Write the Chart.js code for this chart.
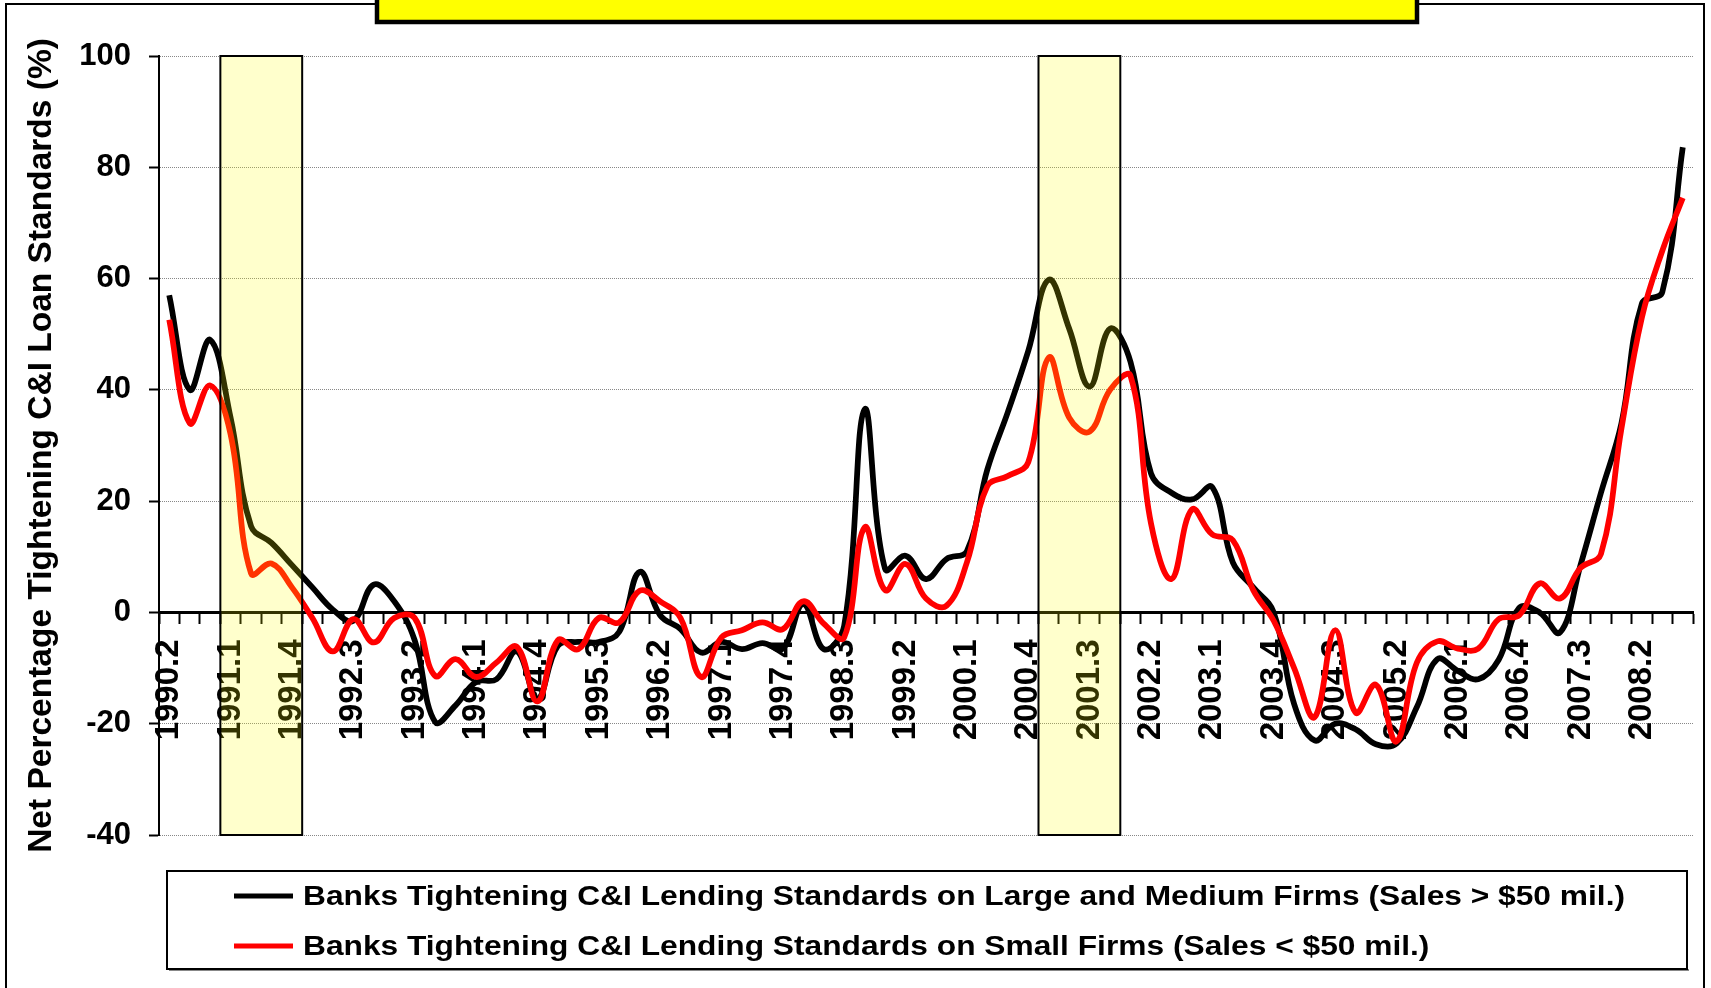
<!DOCTYPE html>
<html>
<head>
<meta charset="utf-8">
<script src="https://cdn.jsdelivr.net/npm/chart.js@4"></script>
<style>
  html, body { margin: 0; padding: 0; background: #ffffff; }
  #wrap { width: 1711px; height: 988px; position: relative; }
  canvas { display: block; }
</style>
</head>
<body>
<div id="wrap"><canvas id="chart" width="1711" height="988"></canvas></div>
<script>
// ---------------- data ----------------
const quarters = [
  '1990.2','1990.3','1990.4',
  '1991.1','1991.2','1991.3','1991.4',
  '1992.1','1992.2','1992.3','1992.4',
  '1993.1','1993.2','1993.3','1993.4',
  '1994.1','1994.2','1994.3','1994.4',
  '1995.1','1995.2','1995.3','1995.4',
  '1996.1','1996.2','1996.3','1996.4',
  '1997.1','1997.2','1997.3','1997.4',
  '1998.1','1998.2','1998.3','1998.4',
  '1999.1','1999.2','1999.3','1999.4',
  '2000.1','2000.2','2000.3','2000.4',
  '2001.1','2001.2','2001.3','2001.4',
  '2002.1','2002.2','2002.3','2002.4',
  '2003.1','2003.2','2003.3','2003.4',
  '2004.1','2004.2','2004.3','2004.4',
  '2005.1','2005.2','2005.3','2005.4',
  '2006.1','2006.2','2006.3','2006.4',
  '2007.1','2007.2','2007.3','2007.4',
  '2008.1','2008.2','2008.3','2008.4'
];

// Banks tightening C&I standards, large and medium firms (net %)
const largeMediumFirms = [
  57, 40, 49,
  35, 15.5, 12.5, 8.5,
  4.5, 0.5, -1.5, 5,
  2, -5, -19.7, -16.7,
  -12.5, -12, -7, -15.5,
  -6, -5.3, -5.3, -3.5,
  7.3, -0.5, -3, -7.2,
  -5.3, -6.6, -5.5, -6.5,
  1.5, -6.6, -2.4, 36.5,
  7.8, 10.2, 6, 9.6,
  11, 25.7, 36, 47,
  59.8, 51, 40.6, 51,
  45, 25, 21.5, 20.3,
  22.5, 9, 4.5, 0,
  -16.5, -23, -20, -21,
  -23.7, -23.6, -17, -8.4,
  -10.5, -12, -8.5, 0.8,
  0, -3.6, 8.5, 21.5,
  34, 55.5, 57.6, 83.6
];

// Banks tightening C&I standards, small firms (net %)
const smallFirms = [
  52.6, 34, 40.8,
  32, 7, 8.8, 4.5,
  -1, -7, -1.2, -5.4,
  -1, -1, -11.4, -8.4,
  -11.6, -9, -6.2, -16,
  -5, -6.6, -1, -1.8,
  3.9, 2, -1, -11.6,
  -4.5, -3.2, -1.8, -3,
  2, -2, -4.5, 15.3,
  4, 8.7, 2.5, 1.2,
  9, 22.7, 24.5, 27,
  45.8, 35, 32.5, 40,
  42.5, 16, 6, 18.5,
  14, 13, 4, -1.5,
  -10, -18.8, -3.2, -18,
  -13, -23.2, -9, -5.2,
  -6.5, -6.5, -1.2, -0.5,
  5.2, 2.5, 8, 10.5,
  33, 53, 65, 74.5
];

const seriesNames = [
  'Banks Tightening C&I Lending Standards on Large and Medium Firms (Sales > $50 mil.)',
  'Banks Tightening C&I Lending Standards on Small Firms (Sales < $50 mil.)'
];
const seriesColors = ['#000000', '#FF0000'];
const tickLabelEvery = 3;               // a label every third quarter
const yMin = -40, yMax = 100, yStep = 20;
const recessionStarts = ['1991.1', '2001.1'];
const recessionEnds   = ['1991.4', '2001.4'];
const yAxisTitle = 'Net Percentage Tightening C&I Loan Standards (%)';

// ---------------- plugins ----------------
const FONT = '"Liberation Sans", Arial, Helvetica, sans-serif';

const framePlugin = {
  id: 'frame',
  beforeDraw(chart) {
    const ctx = chart.ctx;
    ctx.save();
    ctx.fillStyle = '#ffffff';
    ctx.fillRect(0, 0, chart.width, chart.height);
    // outer chart frame
    ctx.strokeStyle = '#000000';
    ctx.lineWidth = 2;
    ctx.strokeRect(6, 4, 1698, 1000);
    // title box (cut at the top of the picture)
    ctx.fillStyle = '#FFFF00';
    ctx.fillRect(377, -30, 1040, 52);
    ctx.lineWidth = 4.5;
    ctx.strokeRect(377, -30, 1040, 52);
    ctx.restore();
  }
};

const recessionPlugin = {
  id: 'recessions',
  afterDraw(chart) {
    const {ctx, scales: {x, y}} = chart;
    const half = (x.getPixelForValue(1) - x.getPixelForValue(0)) / 2;
    const top = y.getPixelForValue(yMax);
    const bottom = y.getPixelForValue(yMin);
    recessionStarts.forEach((s, k) => {
      const i0 = quarters.indexOf(s);
      const i1 = quarters.indexOf(recessionEnds[k]);
      const x0 = x.getPixelForValue(i0) - half;
      const x1 = x.getPixelForValue(i1) + half;
      ctx.save();
      ctx.fillStyle = 'rgba(255,255,0,0.2)';
      ctx.fillRect(x0, top, x1 - x0, bottom - top);
      ctx.strokeStyle = '#000000';
      ctx.lineWidth = 2;
      ctx.strokeRect(x0, top, x1 - x0, bottom - top);
      ctx.restore();
    });
  }
};

const legendPlugin = {
  id: 'boxLegend',
  afterDraw(chart) {
    const ctx = chart.ctx;
    const box = {x: 167, y: 871, w: 1520, h: 98};
    ctx.save();
    ctx.fillStyle = '#ffffff';
    ctx.fillRect(box.x, box.y, box.w, box.h);
    ctx.fillStyle = '#888888';
    ctx.fillRect(box.x + 2, box.y + box.h, box.w, 2);
    ctx.strokeStyle = '#000000';
    ctx.lineWidth = 2;
    ctx.strokeRect(box.x, box.y, box.w, box.h);
    ctx.font = 'bold 27.5px ' + FONT;
    ctx.textBaseline = 'middle';
    ctx.textAlign = 'left';
    const sx = 1322 / ctx.measureText(chart.data.datasets[0].label).width;
    chart.data.datasets.forEach((ds, i) => {
      const cy = 896 + i * 50;
      ctx.strokeStyle = ds.borderColor;
      ctx.lineWidth = 5;
      ctx.beginPath();
      ctx.moveTo(234, cy);
      ctx.lineTo(293, cy);
      ctx.stroke();
      ctx.save();
      ctx.translate(303, cy);
      ctx.scale(sx, 1);
      ctx.fillStyle = '#000000';
      ctx.fillText(ds.label, 0, 1);
      ctx.restore();
    });
    ctx.restore();
  }
};

// ---------------- chart ----------------
const chart = new Chart(document.getElementById('chart'), {
  type: 'line',
  data: {
    labels: quarters,
    datasets: [
      {
        label: seriesNames[0], data: largeMediumFirms,
        borderColor: seriesColors[0], backgroundColor: seriesColors[0],
        borderWidth: 5.75, pointRadius: 0, tension: 0.4, fill: false, order: 1,
        borderJoinStyle: 'round', borderCapStyle: 'butt'
      },
      {
        label: seriesNames[1], data: smallFirms,
        borderColor: seriesColors[1], backgroundColor: seriesColors[1],
        borderWidth: 5.75, pointRadius: 0, tension: 0.4, fill: false, order: 0,
        borderJoinStyle: 'round', borderCapStyle: 'butt'
      }
    ]
  },
  options: {
    responsive: false,
    animation: false,
    devicePixelRatio: 1,
    layout: { padding: { left: 0, right: 18, top: 56, bottom: 153 } },
    plugins: { legend: { display: false }, tooltip: { enabled: false }, title: { display: false } },
    scales: {
      x: {
        type: 'category',
        position: { y: 0 },
        offset: true,
        afterFit: (s) => { s.paddingLeft = 0; s.paddingRight = 0; },
        grid: { offset: true, drawOnChartArea: false, drawTicks: true, tickLength: 10, tickColor: '#000000', tickWidth: 2 },
        border: { display: true, color: '#000000', width: 3 },
        ticks: {
          autoSkip: false, minRotation: 90, maxRotation: 90, padding: 17,
          color: '#000000',
          font: { family: FONT, size: 33, weight: 'bold' },
          callback: (v, i) => (i % tickLabelEvery === 0 ? quarters[i] : '')
        }
      },
      y: {
        type: 'linear',
        position: 'left',
        min: yMin, max: yMax,
        afterFit: (s) => { s.width = 159; },
        ticks: {
          stepSize: yStep, padding: 18, color: '#000000',
          font: { family: FONT, size: 31, weight: 'bold' }
        },
        grid: { color: '#888888', lineWidth: 1, drawTicks: true, tickLength: 10, tickColor: '#000000', tickWidth: 2 },
        border: { display: true, color: '#000000', width: 2, dash: [1, 1] },
        title: {
          display: true, text: yAxisTitle, color: '#000000',
          font: { family: FONT, size: 33.5, weight: 'bold' },
          padding: { top: 22, bottom: 0 }
        }
      }
    }
  },
  plugins: [framePlugin, recessionPlugin, legendPlugin]
});
</script>
</body>
</html>
